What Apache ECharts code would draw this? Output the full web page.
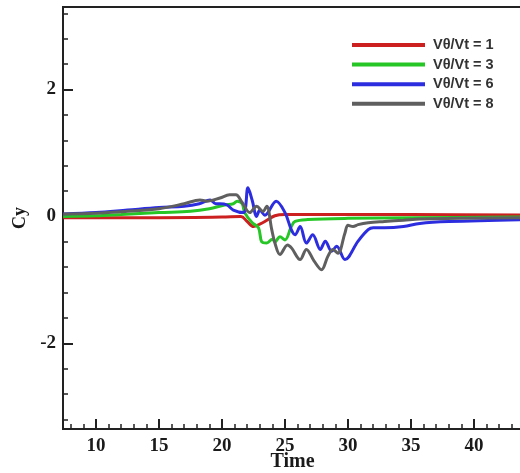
<!DOCTYPE html>
<html>
<head>
<meta charset="utf-8">
<script src="https://cdn.jsdelivr.net/npm/echarts@6/dist/echarts.min.js"></script>
<style>html,body{margin:0;padding:0;background:#fff}#c{width:520px;height:473px}</style>
</head>
<body>
<div id="c"></div>
<script>
var seriesNames = ['Vθ/Vt = 1', 'Vθ/Vt = 3', 'Vθ/Vt = 6', 'Vθ/Vt = 8'];
var xTicks = [10, 15, 20, 25, 30, 35, 40];
var xMinorTicks = [8, 9, 11, 12, 13, 14, 16, 17, 18, 19, 21, 22, 23, 24, 26, 27, 28, 29, 31, 32, 33, 34, 36, 37, 38, 39, 41, 42, 43];
var yTicks = [-2, 0, 2];
var yMinorTicks = [-3.2, -2.8, -2.4, -1.6, -1.2, -0.8, -0.4, 0.4, 0.8, 1.2, 1.6, 2.4, 2.8, 3.2];

var t1 = [7.4, 15, 20, 21.5, 22.0, 22.5, 23.0, 23.4, 24.2, 25, 30, 35, 43.9];
var v1 = [-0.02, -0.02, -0.01, 0.0, -0.08, -0.16, -0.12, -0.08, 0.01, 0.03, 0.03, 0.03, 0.02];

var t3 = [7.4, 10, 12, 15, 17.5, 19, 20.2, 20.9, 21.2, 21.6, 21.8, 22.4, 22.9, 23.15, 23.55, 24.0, 24.2, 24.6, 25.0, 25.5, 25.8, 26.8, 30, 35, 43.9];
var v3 = [0.0, 0.01, 0.03, 0.06, 0.08, 0.12, 0.18, 0.2, 0.24, 0.2, 0.06, -0.1, -0.18, -0.4, -0.42, -0.36, -0.4, -0.32, -0.37, -0.16, -0.08, -0.05, -0.03, -0.02, -0.01];

var t6 = [7.4, 10, 12.5, 15, 17, 18.2, 19.05, 19.5, 19.84, 20.4, 20.9, 21.7, 22.06, 22.4, 22.75, 23.0, 23.4, 24.3, 25.0, 25.5, 25.8, 26.2, 26.7, 27.2, 27.8, 28.2, 28.7, 29.1, 29.76, 30.8, 31.6, 32.0, 32.9, 34.4, 35.7, 38, 43.9];
var v6 = [0.04, 0.06, 0.1, 0.14, 0.16, 0.2, 0.26, 0.2, 0.2, 0.18, 0.1, 0.06, 0.45, 0.25, 0.0, 0.1, 0.02, 0.24, 0.06, -0.21, -0.29, -0.16, -0.42, -0.29, -0.52, -0.39, -0.55, -0.47, -0.68, -0.39, -0.21, -0.18, -0.18, -0.16, -0.11, -0.08, -0.05];

var t8 = [7.4, 10, 12.5, 15, 17, 18.25, 18.8, 19.84, 20.6, 21.1, 21.6, 22.2, 22.75, 23.25, 23.55, 23.94, 24.2, 24.6, 25.2, 25.53, 26.2, 26.7, 27.3, 27.9, 28.4, 28.8, 29.2, 29.76, 30.0, 30.4, 30.8, 31.6, 32.9, 34.4, 35.7, 43.9];
var v8 = [0.04, 0.05, 0.08, 0.12, 0.2, 0.26, 0.24, 0.29, 0.34, 0.34, 0.22, 0.06, 0.16, 0.08, 0.16, -0.2, -0.42, -0.6, -0.45, -0.5, -0.68, -0.52, -0.7, -0.84, -0.63, -0.52, -0.58, -0.26, -0.14, -0.16, -0.13, -0.1, -0.08, -0.06, -0.04, -0.02];

var colors = ['#cc1f1f', '#26c626', '#2d2de0', '#5f5f5f'];
var times = [t1, t3, t6, t8];
var vals = [v1, v3, v6, v8];

function pairs(t, v) { return t.map(function (x, i) { return [x, v[i]]; }); }

var XMIN = 7.38, XMAX = 43.81;
var tickFont = { fontFamily: 'Liberation Serif', fontWeight: 'bold', fontSize: 19, color: '#1a1a1a' };

var chart = echarts.init(document.getElementById('c'), null, { renderer: 'canvas' });
chart.setOption({
  animation: false,
  backgroundColor: '#fff',
  grid: { left: 63, top: 7, right: -2, bottom: 44, show: true, borderColor: '#222', borderWidth: 2, backgroundColor: 'transparent', containLabel: false, outerBoundsMode: 'none' },
  legend: {
    orient: 'vertical', left: 347, top: 32,
    itemWidth: 73, itemHeight: 4, itemGap: 3.6,
    icon: 'rect',
    data: seriesNames,
    textStyle: { fontFamily: 'Liberation Sans', fontWeight: 'bold', fontSize: 14.5, color: '#333', lineHeight: 16, padding: [0, 0, 0, 3] }
  },
  xAxis: [{
    type: 'value', min: XMIN, max: XMAX, position: 'bottom',
    name: 'Time', nameLocation: 'middle', nameGap: 23, nameMoveOverlap: false,
    nameTextStyle: { fontFamily: 'Liberation Serif', fontWeight: 'bold', fontSize: 20, color: '#1a1a1a' },
    axisLine: { show: true, onZero: false, lineStyle: { color: '#222', width: 2 } },
    axisTick: { show: true, inside: true, length: 10, customValues: xTicks, lineStyle: { color: '#222', width: 2 } },
    axisLabel: { show: true, customValues: xTicks, margin: 8, formatter: function (v) { return String(v); } },
    splitLine: { show: false }
  }, {
    type: 'value', min: XMIN, max: XMAX, position: 'bottom', gridIndex: 0,
    axisLine: { show: false, onZero: false },
    axisTick: { show: true, inside: true, length: 5, customValues: xMinorTicks, lineStyle: { color: '#222', width: 1.5 } },
    axisLabel: { show: false },
    splitLine: { show: false }
  }],
  yAxis: [{
    type: 'value', min: -3.35, max: 3.3, position: 'left',
    name: 'Cy', nameLocation: 'middle', nameGap: 29, nameRotate: 90,
    nameTextStyle: { fontFamily: 'Liberation Serif', fontWeight: 'bold', fontSize: 18, color: '#1a1a1a' },
    axisLine: { show: true, onZero: false, lineStyle: { color: '#222', width: 2 } },
    axisTick: { show: true, inside: true, length: 10, customValues: yTicks, lineStyle: { color: '#222', width: 2 } },
    axisLabel: { show: true, customValues: yTicks, margin: 7, formatter: function (v) { return String(v); } },
    splitLine: { show: false }
  }, {
    type: 'value', min: -3.35, max: 3.3, position: 'left', gridIndex: 0,
    axisLine: { show: false, onZero: false },
    axisTick: { show: true, inside: true, length: 5, customValues: yMinorTicks, lineStyle: { color: '#222', width: 1.5 } },
    axisLabel: { show: false },
    splitLine: { show: false }
  }],
  textStyle: tickFont,
  series: seriesNames.map(function (n, i) {
    return {
      name: n, type: 'line', xAxisIndex: 0, yAxisIndex: 0,
      data: pairs(times[i], vals[i]),
      showSymbol: false, symbol: 'none', smooth: 0.35,
      lineStyle: { color: colors[i], width: 3 },
      itemStyle: { color: colors[i] },
      z: 2 + i
    };
  })
});
chart.setOption({
  xAxis: [{ axisLabel: tickFont }, {}],
  yAxis: [{ axisLabel: tickFont }, {}]
});
</script>
</body>
</html>
